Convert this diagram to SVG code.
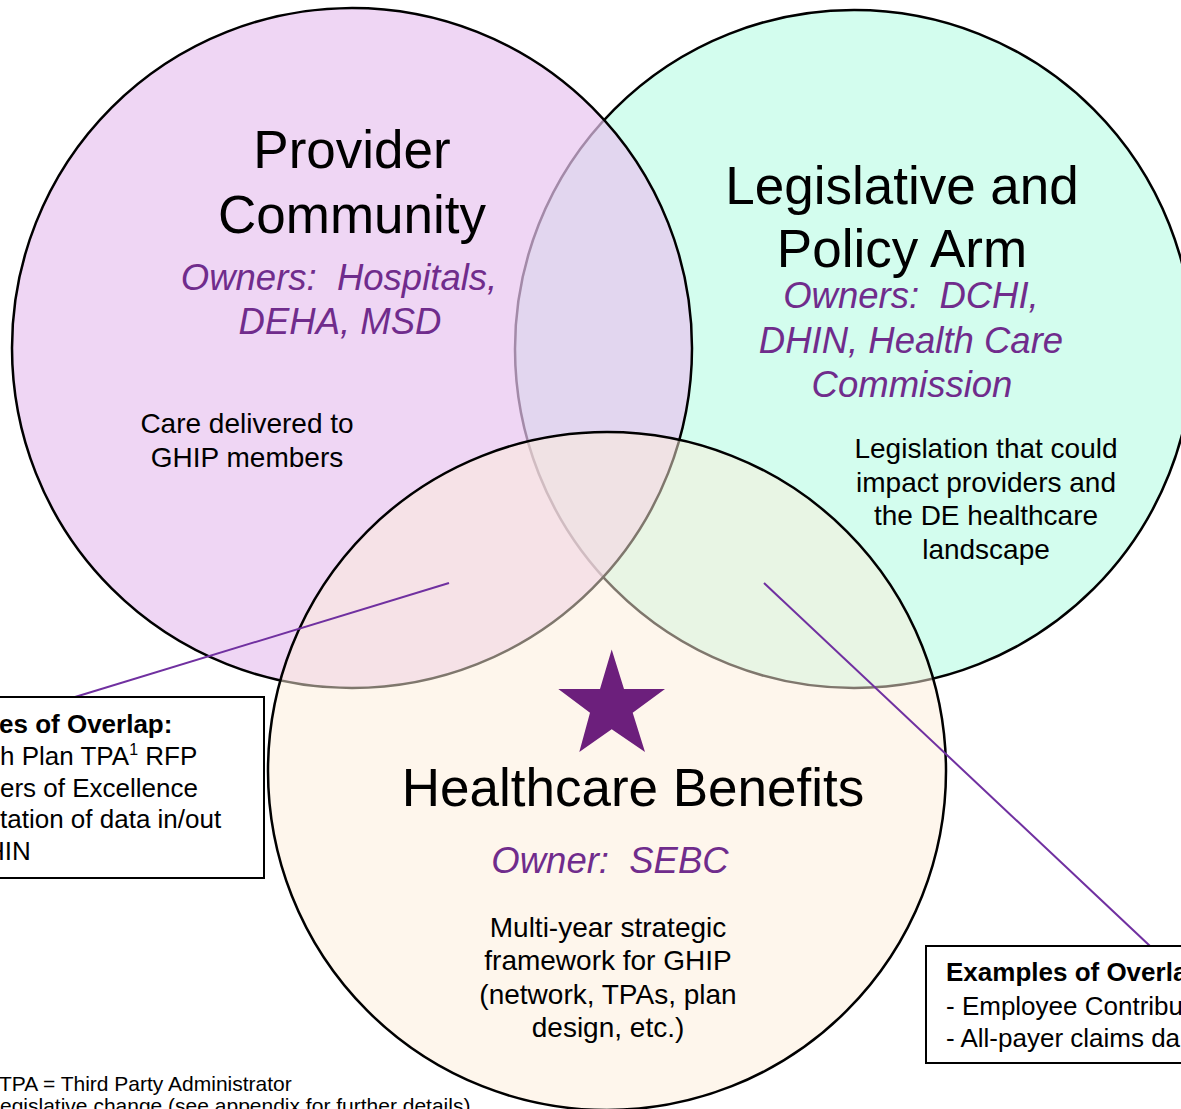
<svg xmlns="http://www.w3.org/2000/svg" width="1181" height="1109" viewBox="0 0 1181 1109">
<style>
.circ{stroke:#000;stroke-width:2.5}
.t{font-family:"Liberation Sans",Arial,sans-serif;fill:#000}
.title{font-size:53px;text-anchor:middle}
.own{font-size:36.5px;font-style:italic;fill:#702C8C;text-anchor:middle;white-space:pre}
.body{font-size:28px;text-anchor:middle}
.box{font-size:26px}
.boxb{font-size:26px;font-weight:bold}
.foot{font-size:21px}
.conn{stroke:#7030A0;stroke-width:2;fill:none}
.frame{fill:#fff;stroke:#000;stroke-width:2}
</style>
<rect width="1181" height="1109" fill="#fff"/>
<g id="legislative-policy">
<circle class="circ" cx="854" cy="349" r="339" fill="#D3FDEE"/>
</g>
<g id="provider-community">
<circle class="circ" cx="352" cy="348" r="340" fill="rgb(232,197,240)" fill-opacity="0.7"/>
</g>
<g id="healthcare-benefits">
<circle class="circ" cx="607" cy="771" r="339" fill="rgb(253,237,217)" fill-opacity="0.5"/>
<polygon points="611.7,649.5 624,689 665,689 632.7,712.7 645,752 611.7,729.3 579.3,752 590,712.7 558.3,689 600,689" fill="#6C1F7C"/>
<text class="t title" x="633" y="806">Healthcare Benefits</text>
<text class="t own" x="610" y="873" xml:space="preserve">Owner:  SEBC</text>
<text class="t body" x="608" y="937">Multi-year strategic</text>
<text class="t body" x="608" y="970">framework for GHIP</text>
<text class="t body" x="608" y="1004">(network, TPAs, plan</text>
<text class="t body" x="608" y="1037">design, etc.)</text>
</g>
<g id="provider-texts">
<text class="t title" x="352" y="168">Provider</text>
<text class="t title" x="352" y="233">Community</text>
<text class="t own" x="339" y="290" xml:space="preserve">Owners:  Hospitals,</text>
<text class="t own" x="340" y="334">DEHA, MSD</text>
<text class="t body" x="247" y="433">Care delivered to</text>
<text class="t body" x="247" y="467">GHIP members</text>
</g>
<g id="legislative-texts">
<text class="t title" x="902" y="204">Legislative and</text>
<text class="t title" x="902" y="267">Policy Arm</text>
<text class="t own" x="911" y="308" xml:space="preserve">Owners:  DCHI,</text>
<text class="t own" x="911" y="353">DHIN, Health Care</text>
<text class="t own" x="912" y="397">Commission</text>
<text class="t body" x="986" y="458">Legislation that could</text>
<text class="t body" x="986" y="492">impact providers and</text>
<text class="t body" x="986" y="525">the DE healthcare</text>
<text class="t body" x="986" y="559">landscape</text>
</g>
<g id="connectors">
<line class="conn" x1="449" y1="583" x2="75" y2="697"/>
<line class="conn" x1="764" y1="583" x2="1150" y2="946"/>
</g>
<g id="overlap-box-left">
<rect class="frame" x="-20" y="697" width="284" height="181"/>
<text class="t boxb" x="-1" y="733">es of Overlap:</text>
<text class="t box" x="0" y="765">h Plan TPA<tspan font-size="16" dy="-10">1</tspan><tspan dy="10"> RFP</tspan></text>
<text class="t box" x="0" y="797">ers of Excellence</text>
<text class="t box" x="0" y="828">tation of data in/out</text>
<text class="t box" x="-14" y="860">HIN</text>
</g>
<g id="overlap-box-right">
<rect class="frame" x="926" y="946" width="280" height="117"/>
<text class="t boxb" x="946" y="981">Examples of Overla</text>
<text class="t box" x="946" y="1015">- Employee Contribu</text>
<text class="t box" x="946" y="1047">- All-payer claims da</text>
</g>
<g id="footnotes">
<text class="t foot" x="-1" y="1091">TPA = Third Party Administrator</text>
<text class="t foot" x="0" y="1113">egislative change (see appendix for further details)</text>
</g>
</svg>
